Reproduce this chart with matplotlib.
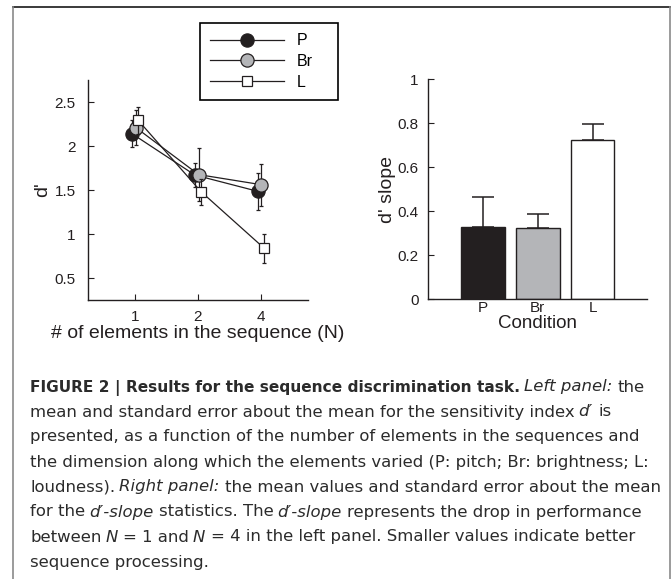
import matplotlib
matplotlib.use("Agg")
import matplotlib.pyplot as plt
from matplotlib.lines import Line2D
import numpy as np

# ---- data ----
n_labels = ["1", "2", "4"]
series = ["P", "Br", "L"]
dprime_P = [2.14, 1.67, 1.485]
dprime_Br = [2.21, 1.675, 1.56]
dprime_L = [2.29, 1.48, 0.84]
se_P = [0.15, 0.14, 0.21]
se_Br = [0.20, 0.30, 0.24]
se_L = [0.15, 0.15, 0.165]

slope_vals = [0.327, 0.324, 0.723]
slope_se = [0.139, 0.065, 0.074]

plt.rcParams['font.family'] = ['Liberation Sans', 'DejaVu Sans']
W, H = 671, 579
fig = plt.figure(figsize=(W / 100, H / 100), dpi=100)

def ax_rect(x0, y0, x1, y1):
    return [x0 / W, 1 - y1 / H, (x1 - x0) / W, (y1 - y0) / H]

ink = '#231f20'

# ---- left panel ----
ax1 = fig.add_axes(ax_rect(88, 80, 308, 300))
pos = np.arange(1, 4)
styles = [
    ("P", dprime_P, se_P, -0.05, dict(marker='o', ms=9.5, mfc=ink, mec=ink)),
    ("Br", dprime_Br, se_Br, 0.01, dict(marker='o', ms=9.5, mfc='#b4b5b8', mec=ink)),
    ("L", dprime_L, se_L, 0.05, dict(marker='s', ms=6.5, mfc='white', mec=ink)),
]
handles = []
for name, vals, err, off, mk in styles:
    x = pos + off
    ax1.errorbar(x, vals, yerr=err, fmt='none', ecolor=ink, elinewidth=0.9,
                 capsize=1.5, capthick=0.9)
    h, = ax1.plot(x, vals, color=ink, lw=0.9, mew=0.9, label=name, **mk)
    handles.append(h)

ax1.set_xlim(0.25, 3.75)
ax1.set_ylim(0.25, 2.75)
ax1.set_xticks(pos)
ax1.set_xticklabels(n_labels)
ax1.set_yticks([0.5, 1, 1.5, 2, 2.5])
ax1.set_yticklabels(["0.5", "1", "1.5", "2", "2.5"])
ax1.set_xlabel("# of elements in the sequence (N)", fontsize=14, labelpad=1)
ax1.set_ylabel("d'", fontsize=14, labelpad=2)
ax1.tick_params(axis='y', direction='in', length=4, pad=9, labelsize=11, colors=ink)
ax1.tick_params(axis='x', direction='in', length=4, pad=7, labelsize=11, colors=ink)

leg = ax1.legend(handles=handles, loc='upper left', mode='expand',
                 bbox_to_anchor=(200 / W, 1 - 100.7 / H, 138 / W, 77.7 / H),
                 bbox_transform=fig.transFigure,
                 borderaxespad=0, fancybox=False, edgecolor='black', framealpha=1,
                 fontsize=11.5, handlelength=4.6, handletextpad=0.8,
                 borderpad=0.65, labelspacing=0.35)
leg.get_frame().set_linewidth(1.2)

# ---- right panel ----
ax2 = fig.add_axes(ax_rect(428.3, 79.3, 647.3, 299.3))
bar_colors = [ink, '#b4b5b8', 'white']
ax2.bar(pos, slope_vals, width=0.8, color=bar_colors, edgecolor=ink, linewidth=1, zorder=2)
ax2.errorbar(pos, slope_vals, yerr=[np.zeros(3), slope_se], fmt='none', ecolor=ink,
             elinewidth=1.1, capsize=8, capthick=1.1, zorder=1)
ax2.set_xlim(0, 4)
ax2.set_ylim(0, 1)
ax2.set_xticks(pos)
ax2.set_xticklabels(series)
ax2.set_yticks([0, 0.2, 0.4, 0.6, 0.8, 1])
ax2.set_yticklabels(["0", "0.2", "0.4", "0.6", "0.8", "1"])
ax2.set_xlabel("Condition", fontsize=13.5, labelpad=0)
ax2.set_ylabel("d' slope", fontsize=14, labelpad=1)
ax2.tick_params(axis='y', direction='in', length=4, pad=7, labelsize=11, colors=ink)
ax2.tick_params(axis='x', length=0, pad=1.5, labelsize=11, colors=ink)

for ax in (ax1, ax2):
    for s in ('top', 'right'):
        ax.spines[s].set_visible(False)
    for s in ('left', 'bottom'):
        ax.spines[s].set_color(ink)
        ax.spines[s].set_linewidth(1)
    ax.xaxis.label.set_color(ink)
    ax.yaxis.label.set_color(ink)

# ---- frame around figure ----
fig.add_artist(Line2D([13 / W, 669.5 / W], [1 - 7 / H, 1 - 7 / H], transform=fig.transFigure,
                      color='#3a3a3a', lw=1.4))
fig.add_artist(Line2D([13 / W, 13 / W], [0, 1 - 7 / H], transform=fig.transFigure,
                      color='#8a8a8a', lw=1.2))
fig.add_artist(Line2D([669.5 / W, 669.5 / W], [0, 1 - 7 / H], transform=fig.transFigure,
                      color='#8a8a8a', lw=1.2))

# ---- caption ----
cap_font = ['DejaVu Sans']
cap_size = 11.85
bold_size = 11.1
cap_color = '#2b2b2b'
cap_lines = [
    [("FIGURE 2 | Results for the sequence discrimination task.", 'bold', 0),
     ("Left panel:", 'italic', 1), ("the", 'normal', 1)],
    [("mean and standard error about the mean for the sensitivity index", 'normal', 0),
     ("d\u2032", 'italic', 1), ("is", 'normal', 1)],
    [("presented, as a function of the number of elements in the sequences and", 'normal', 0)],
    [("the dimension along which the elements varied (P: pitch; Br: brightness; L:", 'normal', 0)],
    [("loudness).", 'normal', 0), ("Right panel:", 'italic', 1),
     ("the mean values and standard error about the mean", 'normal', 1)],
    [("for the", 'normal', 0), ("d\u2032-slope", 'italic', 1), ("statistics. The", 'normal', 1),
     ("d\u2032-slope", 'italic', 1), ("represents the drop in performance", 'normal', 1)],
    [("between", 'normal', 0), ("N", 'italic', 1), ("= 1 and", 'normal', 1), ("N", 'italic', 1),
     ("= 4 in the left panel. Smaller values indicate better", 'normal', 1)],
    [("sequence processing.", 'normal', 0)],
]
space_pt = 0.23 * cap_size
for i, line in enumerate(cap_lines):
    yb = 1 - (391.5 + 25 * i) / H
    prev = None
    prev_style = None
    for txt, style, sp in line:
        kw = dict(fontsize=cap_size, family=cap_font, color=cap_color, va='baseline', ha='left')
        if style == 'bold':
            kw['fontweight'] = 'bold'
            kw['fontsize'] = bold_size
        elif style == 'italic':
            kw['fontstyle'] = 'italic'
        if prev is None:
            prev = fig.text(30 / W, yb, txt, **kw)
        else:
            gap = space_pt * sp * (1.5 if prev_style == 'italic' else 1.0)
            prev = plt.annotate(txt, xy=(1, yb), xycoords=(prev, 'figure fraction'),
                                xytext=(gap, 0), textcoords='offset points',
                                annotation_clip=False, **kw)
        prev_style = style

fig.savefig("out.png", dpi=100)
